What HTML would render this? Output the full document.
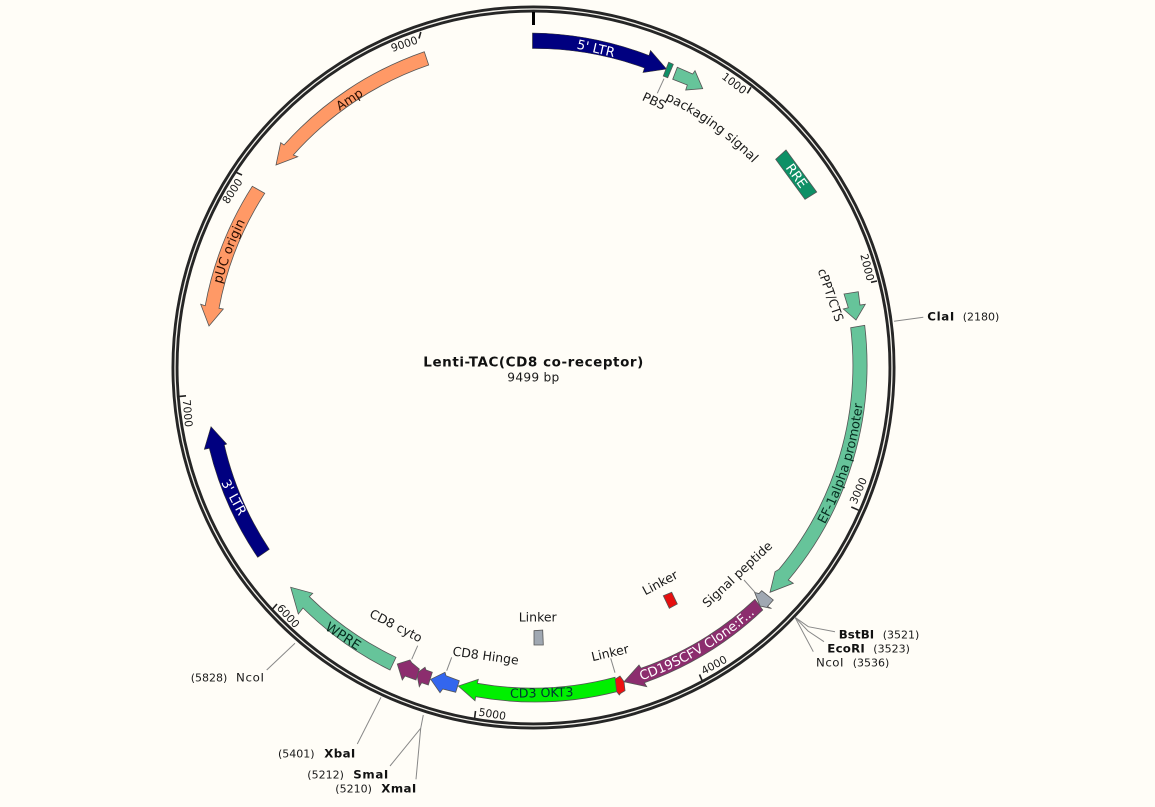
<!DOCTYPE html>
<html>
<head>
<meta charset="utf-8">
<style>
html,body{margin:0;padding:0;background:#fffdf7;width:1155px;height:807px;overflow:hidden}
svg{display:block}
text{font-family:"DejaVu Sans","Liberation Sans",sans-serif;fill:#1a1a1a}
.l{font-size:12.5px}
.t{font-size:10.8px}
.s{font-size:11px}
.b{font-size:11.8px;font-weight:bold;fill:#111}
.f{font-size:12.6px}
.ln{stroke:#888;stroke-width:1;fill:none}
.tk{stroke:#222;stroke-width:1.6;fill:none}
.fs{stroke:#555;stroke-width:.8}
</style>
</head>
<body>
<svg width="1155" height="807" viewBox="0 0 1155 807" xmlns="http://www.w3.org/2000/svg">
<rect width="1155" height="807" fill="#fffdf7"/>

<!-- backbone -->
<circle cx="533.5" cy="367.5" r="358.5" fill="none" stroke="#262626" stroke-width="7"/>
<circle cx="533.5" cy="367.5" r="358.5" fill="none" stroke="#f4f2ec" stroke-width="1.3"/>
<rect x="532" y="12" width="3" height="13" fill="#000"/>

<!-- ticks -->
<path class="tk" d="M747.3,93.3L751,87.3M871,282.3L877,281M851.3,507L858.6,510.2M699.5,674.5L702.3,681M475.5,711L474.6,718.3M277,604L271.7,610M186,395.8L177,396.7M242,175L236.5,172.5M419,38.5L420.8,32"/>
<text class="t" text-anchor="middle" dy=".35em" transform="translate(734.3 83.3) rotate(37)">1000</text>
<text class="t" text-anchor="middle" dy=".35em" transform="translate(867.3 267.3) rotate(75.8)">2000</text>
<text class="t" text-anchor="middle" dy=".35em" transform="translate(858.3 490.7) rotate(-66.3)">3000</text>
<text class="t" text-anchor="middle" dy=".35em" transform="translate(714 665) rotate(-28.4)">4000</text>
<text class="t" text-anchor="middle" dy=".35em" transform="translate(492.3 714) rotate(9.5)">5000</text>
<text class="t" text-anchor="middle" dy=".35em" transform="translate(288.3 616) rotate(47.4)">6000</text>
<text class="t" text-anchor="middle" dy=".35em" transform="translate(187.7 413.3) rotate(85.3)">7000</text>
<text class="t" text-anchor="middle" dy=".35em" transform="translate(232.3 191) rotate(-56.8)">8000</text>
<text class="t" text-anchor="middle" dy=".35em" transform="translate(404.3 44) rotate(-19)">9000</text>

<!-- connector lines -->
<path class="ln" d="M664,78.7L657.3,93.3"/>
<path class="ln" d="M744,580L755,592.3"/>
<path class="ln" d="M610.7,658.3L615,672.7"/>
<path class="ln" d="M446.7,670.7L451.7,657.3"/>
<path class="ln" d="M411.7,659.3L417.7,645.7"/>
<path class="ln" d="M894,321.3L923.3,317.3"/>
<path class="ln" d="M795,617.3L808.3,626.7L835,631.7"/>
<path class="ln" d="M795,617.3L808,631L824,641.7"/>
<path class="ln" d="M795,617.3L813.3,651.7"/>
<path class="ln" d="M295,643.3L266.7,670"/>
<path class="ln" d="M381,697.3L357.3,744"/>
<path class="ln" d="M423.3,715L420.7,728.3L390,766"/>
<path class="ln" d="M420.7,728.3L416,779.3"/>

<!-- features -->
<path fill="#000080" stroke="#333" stroke-width=".6" d="M532.5,33 A334 334 0 0 1 649,55.5 L650.5,50.5 L666.5,69 L643,72.5 L644.5,68 A319 319 0 0 0 532.5,48.5 Z"/>
<path fill="#0e9066" class="fs" d="M668.7,62.3L673.3,64.3L667.7,77.7L663.3,76Z"/>
<path fill="#66c49a" class="fs" d="M677.3,67.3L692.7,74L695,70.7L702.7,88.7L685.7,90L687.3,85L672.7,79.3Z"/>
<path fill="#0e9066" class="fs" d="M786,150L816.7,192L805,199.3L775.7,159.3Z"/>
<path fill="#66c49a" class="fs" d="M844,294L858.3,291.7L860,305L865.3,304.3L856,320L843.3,309L848.3,307.7Z"/>
<path fill="#66c49a" class="fs" d="M864.7,325.3 A334 334 0 0 1 788.3,580 L793.3,583.3 L770,592.3 L775,571.7 L779,569.3 A319.5 319.5 0 0 0 850.7,327.7 Z"/>
<path fill="#a0a8b2" class="fs" d="M761.7,590.7L773.3,600L767.5,606.5L771.5,608.5L760,606L754.7,592.5L759,593.5Z"/>
<path fill="#8c2d6e" class="fs" d="M762.7,610 A334 334 0 0 1 644.3,682.7 L646.7,686.7 L624,681.7 L639,665 L641,668.3 A320 320 0 0 0 755,599.3 Z"/>
<path fill="#ee1111" class="fs" d="M615,679.3L620,676L624,681.7L625,690.7L620.7,693.3L619.3,695L616,690.7Z"/>
<path fill="#00f000" class="fs" d="M616.7,691.7 A334 334 0 0 1 475.7,696.7 L475,700.7 L458.3,686 L478.3,679.3 L477.3,683.3 A320 320 0 0 0 615,677.3 Z"/>
<path fill="#3366ee" class="fs" d="M430.7,679.3L445,672.3L446,675.7L459.3,680.7L455.7,692.3L442.7,689L440,692.7Z"/>
<path fill="#8c2d6e" class="fs" d="M416.7,673.3L425,667.3L426,670L432.3,672.3L428.3,685L421.7,682.7L419.3,686.7Z"/>
<path fill="#8c2d6e" class="fs" d="M397.3,664L410,660L411.7,662.7L419.3,669L416,680L405,676L402.3,680Z"/>
<path fill="#66c49a" class="fs" d="M390,670 A334 334 0 0 1 303,608 L298.3,614 L290.7,587.3 L312.7,593.3 L309.3,596.7 A320 320 0 0 0 396,657.3 Z"/>
<path fill="#000080" stroke="#333" stroke-width=".6" d="M257.7,557.3 A334 334 0 0 1 209.3,448.3 L204.3,449.3 L211,426.7 L226.7,444 L224.3,445 A319 319 0 0 0 269.3,549.3 Z"/>
<path fill="#ff9966" class="fs" d="M252.3,186.3 A334 334 0 0 0 205.2,305.7 L200.7,304.3 L209,326 L223.3,309 L219,308.3 A320 320 0 0 1 264.7,193.3 Z"/>
<path fill="#ff9966" class="fs" d="M424.3,51.7 A334 334 0 0 0 284,145 L280.7,142.7 L276,165 L297.7,156.7 L293.3,155 A320 320 0 0 1 428.7,65 Z"/>
<path fill="#e60f0f" class="fs" d="M663.3,595.7L671.7,592.3L677.3,604L669.3,608.3Z"/>
<path fill="#a0a8b2" class="fs" d="M534,630.7L542.7,630L543.3,645L534,645Z"/>

<!-- text paths -->
<defs>
<path id="pEF" d="M767.6,601.5 A331 331 0 0 0 859.1,307.8"/>
<path id="pCD" d="M562.4,697.2 A331 331 0 0 0 807.9,552.6"/>
<path id="pPU" d="M211.7,395.7 A323 323 0 0 1 312.4,132"/>
<path id="pPK" d="M590.5,76 A300 300 0 0 1 799,226"/>
</defs>

<!-- feature labels -->
<text class="f" text-anchor="middle" style="fill:#052b1e;font-size:12.8px"><textPath href="#pEF" startOffset="50%">EF-1alpha promoter</textPath></text>
<text class="f" text-anchor="middle" style="fill:#fff;font-size:13px"><textPath href="#pCD" startOffset="50%">CD19SCFV Clone:F...</textPath></text>
<text class="f" text-anchor="middle" style="fill:#2a0d00;font-size:12.8px"><textPath href="#pPU" startOffset="50%">pUC origin</textPath></text>
<text class="l" text-anchor="middle" style="font-size:12.9px"><textPath href="#pPK" startOffset="50%">packaging signal</textPath></text>
<text class="f" text-anchor="middle" dy=".35em" style="fill:#fff;font-size:13px" transform="translate(596 48.3) rotate(13)">5' LTR</text>
<text class="f" text-anchor="middle" dy=".35em" style="fill:#fff;font-size:13px" transform="translate(796.7 175.7) rotate(54)">RRE</text>
<text class="f" text-anchor="middle" dy=".35em" style="fill:#2a0d00;font-size:12.6px" transform="translate(349.3 99.3) rotate(-33)">Amp</text>
<text class="f" text-anchor="middle" dy=".35em" style="fill:#fff;font-size:13px" transform="translate(234 497.3) rotate(62)">3' LTR</text>
<text class="f" text-anchor="middle" dy=".35em" style="fill:#052b1e;font-size:13.4px" transform="translate(343.3 636) rotate(33)">WPRE</text>
<text class="f" text-anchor="middle" dy=".35em" style="fill:#033;font-size:12.6px" transform="translate(541.7 692.7) rotate(-1.4)">CD3 OKT3</text>

<text class="l" text-anchor="middle" dy=".35em" transform="translate(654 101) rotate(25)">PBS</text>
<text class="l" text-anchor="middle" dy=".35em" textLength="55" lengthAdjust="spacingAndGlyphs" transform="translate(830.7 295) rotate(71)">cPPT/CTS</text>
<text class="l" text-anchor="middle" dy=".35em" transform="translate(737.3 574.3) rotate(-43)">Signal peptide</text>
<text class="l" text-anchor="middle" dy=".35em" transform="translate(660 582.7) rotate(-28)">Linker</text>
<text class="l" text-anchor="middle" dy=".35em" transform="translate(610 652.7) rotate(-13)">Linker</text>
<text class="l" text-anchor="middle" dy=".35em" transform="translate(537.7 617.3)">Linker</text>
<text class="l" text-anchor="middle" dy=".35em" transform="translate(485.7 655.7) rotate(8)">CD8 Hinge</text>
<text class="l" text-anchor="middle" dy=".35em" transform="translate(396 625.7) rotate(27)">CD8 cyto</text>

<!-- sites -->
<text class="b" x="927.3" y="320.7" textLength="27">ClaI</text><text class="s" x="962.7" y="320.7">(2180)</text>
<text class="b" x="838.7" y="638.7" textLength="35.5">BstBI</text><text class="s" x="882.7" y="638.7">(3521)</text>
<text class="b" x="827.3" y="652.7" textLength="37.5">EcoRI</text><text class="s" x="873.3" y="652.7">(3523)</text>
<text class="s" x="816" y="666.7" textLength="27.5" style="font-size:11.8px">NcoI</text><text class="s" x="852.7" y="666.7">(3536)</text>
<text class="s" x="190.7" y="681.7">(5828)</text><text class="s" x="236" y="681.7" textLength="28" style="font-size:11.8px">NcoI</text>
<text class="s" x="278" y="757.3">(5401)</text><text class="b" x="324.3" y="757.3" textLength="31">XbaI</text>
<text class="s" x="307.3" y="778.7">(5212)</text><text class="b" x="353.3" y="778.7" textLength="35">SmaI</text>
<text class="s" x="335.3" y="792.7">(5210)</text><text class="b" x="381.3" y="792.7" textLength="35">XmaI</text>

<!-- title -->
<text x="533.3" y="366.7" text-anchor="middle" textLength="220" style="font-size:13.5px;font-weight:bold;fill:#111">Lenti-TAC(CD8 co-receptor)</text>
<text x="533.3" y="381.7" text-anchor="middle" textLength="52" style="font-size:12.2px">9499 bp</text>
</svg>
</body>
</html>
